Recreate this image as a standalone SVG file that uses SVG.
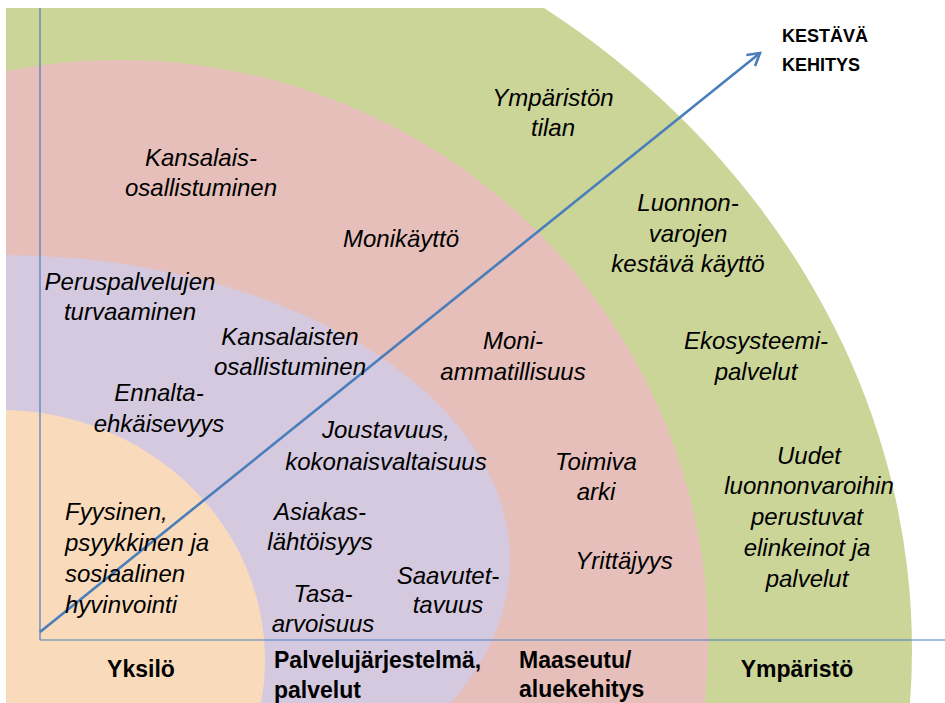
<svg xmlns="http://www.w3.org/2000/svg" width="945" height="703" viewBox="0 0 945 703">
  <defs>
    <style>
      .it { font-family: "Liberation Sans", Arial, sans-serif; font-style: italic; font-size: 24px; fill: #000; text-anchor: middle; }
      .itl { text-anchor: start; }
      .bd { font-family: "Liberation Sans", Arial, sans-serif; font-weight: bold; font-size: 23px; fill: #000; }
      .bds { font-size: 18px; }
      .mid { text-anchor: middle; }
      .axis { stroke: #4A7EBB; stroke-width: 1.2; fill: none; }
      .arrow { stroke: #4A7EBB; stroke-width: 2.6; fill: none; }
    </style>
    <clipPath id="area">
      <rect x="6" y="8" width="939" height="695"/>
    </clipPath>
    <marker id="head" markerUnits="userSpaceOnUse" markerWidth="20" markerHeight="20" refX="14" refY="8" orient="auto">
      <path d="M2,1 L14,8 L2,15" fill="none" stroke="#4A7EBB" stroke-width="2.6" stroke-linejoin="miter"/>
    </marker>
  </defs>

  <rect x="0" y="0" width="945" height="703" fill="#FFFFFF"/>

  <g clip-path="url(#area)">
    <g id="ring-ymparisto">
      <ellipse cx="0" cy="650" rx="912" ry="800" fill="#CBD598"/>
    </g>
    <g id="ring-maaseutu">
      <ellipse cx="120" cy="640" rx="588" ry="580" fill="#E6BFBA"/>
    </g>
    <g id="ring-palvelut">
      <ellipse cx="0" cy="560" rx="510" ry="305" fill="#D4C9DE"/>
    </g>
    <g id="ring-yksilo">
      <ellipse cx="0" cy="660" rx="265" ry="250" fill="#F9DBBC"/>
    </g>
  </g>

  <g id="connectors">
    <line class="axis" x1="40" y1="8" x2="40" y2="640"/>
    <line class="axis" x1="40" y1="640" x2="945" y2="640"/>
    <line class="arrow" x1="40" y1="632" x2="760" y2="53" marker-end="url(#head)"/>
  </g>

  <g id="label-kestava">
    <text class="bd bds" x="782" y="42">KESTÄVÄ</text>
    <text class="bd bds" x="782" y="71">KEHITYS</text>
  </g>

  <g id="node-ympariston-tilan">
    <text class="it" x="553" y="106">Ympäristön</text>
    <text class="it" x="553" y="136">tilan</text>
  </g>
  <g id="node-kansalaisosallistuminen">
    <text class="it" x="201" y="166">Kansalais-</text>
    <text class="it" x="201" y="196">osallistuminen</text>
  </g>
  <g id="node-monikaytto">
    <text class="it" x="401" y="247">Monikäyttö</text>
  </g>
  <g id="node-luonnonvarojen">
    <text class="it" x="688" y="211">Luonnon-</text>
    <text class="it" x="688" y="242">varojen</text>
    <text class="it" x="688" y="272">kestävä käyttö</text>
  </g>
  <g id="node-peruspalvelujen">
    <text class="it" x="130" y="290">Peruspalvelujen</text>
    <text class="it" x="130" y="320">turvaaminen</text>
  </g>
  <g id="node-kansalaisten">
    <text class="it" x="290" y="345">Kansalaisten</text>
    <text class="it" x="290" y="375">osallistuminen</text>
  </g>
  <g id="node-moniammatillisuus">
    <text class="it" x="513" y="349">Moni-</text>
    <text class="it" x="513" y="380">ammatillisuus</text>
  </g>
  <g id="node-ekosysteemipalvelut">
    <text class="it" x="756" y="349">Ekosysteemi-</text>
    <text class="it" x="756" y="380">palvelut</text>
  </g>
  <g id="node-ennaltaehkaisevyys">
    <text class="it" x="159" y="401">Ennalta-</text>
    <text class="it" x="159" y="432">ehkäisevyys</text>
  </g>
  <g id="node-joustavuus">
    <text class="it" x="386" y="438">Joustavuus,</text>
    <text class="it" x="386" y="470">kokonaisvaltaisuus</text>
  </g>
  <g id="node-toimiva-arki">
    <text class="it" x="596" y="470">Toimiva</text>
    <text class="it" x="596" y="500">arki</text>
  </g>
  <g id="node-hyvinvointi">
    <text class="it itl" x="65" y="520">Fyysinen,</text>
    <text class="it itl" x="65" y="551">psyykkinen ja</text>
    <text class="it itl" x="65" y="582">sosiaalinen</text>
    <text class="it itl" x="65" y="613">hyvinvointi</text>
  </g>
  <g id="node-asiakaslahtoisyys">
    <text class="it" x="320" y="520">Asiakas-</text>
    <text class="it" x="320" y="550">lähtöisyys</text>
  </g>
  <g id="node-yrittajyys">
    <text class="it" x="624" y="569">Yrittäjyys</text>
  </g>
  <g id="node-saavutettavuus">
    <text class="it" x="448" y="584">Saavutet-</text>
    <text class="it" x="448" y="613">tavuus</text>
  </g>
  <g id="node-tasa-arvoisuus">
    <text class="it" x="323" y="602">Tasa-</text>
    <text class="it" x="323" y="632">arvoisuus</text>
  </g>
  <g id="node-uudet-elinkeinot">
    <text class="it" x="809" y="464">Uudet</text>
    <text class="it" x="809" y="494">luonnonvaroihin</text>
    <text class="it" x="807" y="525">perustuvat</text>
    <text class="it" x="807" y="556">elinkeinot ja</text>
    <text class="it" x="807" y="587">palvelut</text>
  </g>

  <g id="axis-yksilo">
    <text class="bd mid" x="141" y="677">Yksilö</text>
  </g>
  <g id="axis-palvelujarjestelma">
    <text class="bd" x="274" y="668">Palvelujärjestelmä,</text>
    <text class="bd" x="274" y="698">palvelut</text>
  </g>
  <g id="axis-maaseutu">
    <text class="bd" x="519" y="668">Maaseutu/</text>
    <text class="bd" x="519" y="697">aluekehitys</text>
  </g>
  <g id="axis-ymparisto">
    <text class="bd mid" x="797" y="677">Ympäristö</text>
  </g>
</svg>
